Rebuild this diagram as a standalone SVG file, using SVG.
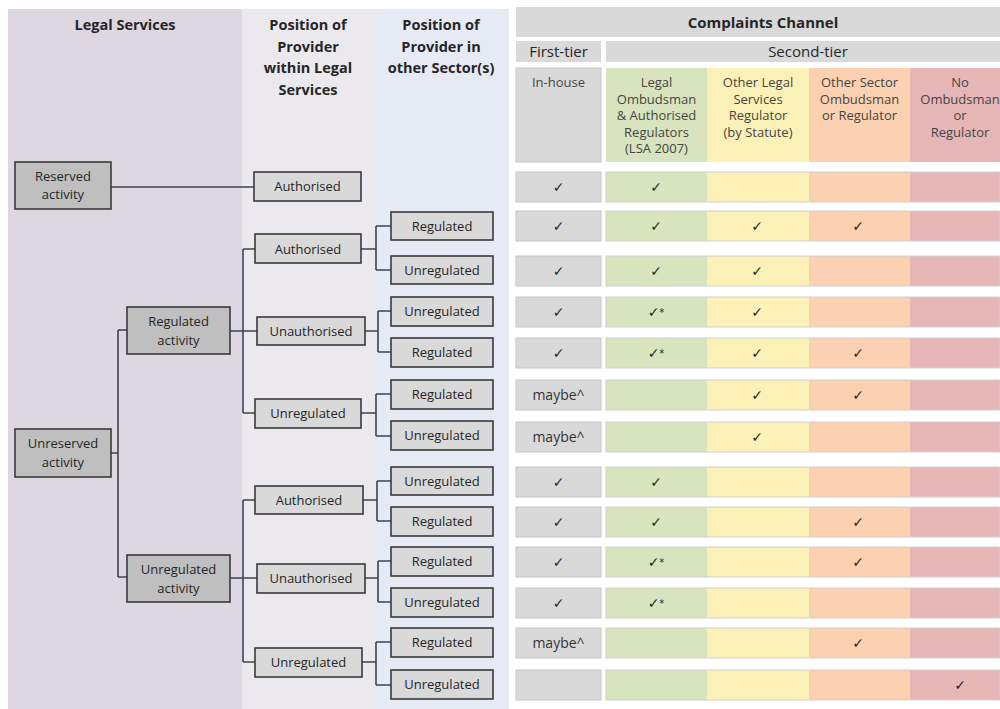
<svg xmlns="http://www.w3.org/2000/svg" width="1000" height="709" viewBox="0 0 1000 709">
  <style>
    text { font-family: "Open Sans", "Liberation Sans", sans-serif; fill: #262626; text-anchor: middle; }
    .hd { font-size: 14.5px; font-weight: bold; }
    .ch { font-size: 15px; font-weight: bold; }
    .tier { font-size: 15px; }
    .col { font-size: 13px; fill: #454545; }
    .lbl { font-size: 13px; }
    .ck { font-family: "DejaVu Sans", sans-serif; font-size: 14px; fill: #2a2a2a; }
    .mb { font-size: 14px; fill: #333; }
    .top { fill: #bfbfbf; stroke: #3a3a3a; stroke-width: 1.6; }
    .sub { fill: #d9d9d9; stroke: #3a3a3a; stroke-width: 1.6; }
    .cell { fill: #d9d9d9; stroke: #c6c6c6; stroke-width: 1; }
    .strip { fill: none; stroke: #d0d0d0; stroke-width: 1; }
    .g { fill: #d7e4bd; }
    .y { fill: #fbf1b6; }
    .o { fill: #fbd1b1; }
    .r { fill: #e6b7b6; }
    .conn path { fill: none; stroke: #3b4450; stroke-width: 1.6; }
  </style>

  <rect width="1000" height="709" fill="#ffffff"/>

  <!-- column bands -->
  <rect x="8" y="9" width="234" height="700" fill="#ddd7e2"/>
  <rect x="242" y="9" width="132" height="700" fill="#ebe9ee"/>
  <rect x="374" y="9" width="135" height="700" fill="#e6eaf4"/>

  <!-- column headings -->
  <text class="hd" x="125" y="30">Legal Services</text>
  <text class="hd" x="308" y="30">Position of</text>
  <text class="hd" x="308" y="51.5">Provider</text>
  <text class="hd" x="308" y="73">within Legal</text>
  <text class="hd" x="308" y="94.5">Services</text>
  <text class="hd" x="441" y="30">Position of</text>
  <text class="hd" x="441" y="51.5">Provider in</text>
  <text class="hd" x="441" y="73">other Sector(s)</text>

  <!-- connectors -->
  <g class="conn" id="connectors">
    <path d="M111,187 H254"/>
    <path d="M111,453 H118 M118,330 V577 M118,330 H127 M118,577 H127"/>
    <path d="M230,331 H257 M243,249 V413 M243,249 H255 M243,413 H255"/>
    <path d="M361,249 H376 M376,226 V270 M376,226 H391 M376,270 H391"/>
    <path d="M365,331 H378 M378,311 V352 M378,311 H391 M378,352 H391"/>
    <path d="M361,413 H376 M376,394 V436 M376,394 H391 M376,436 H391"/>
    <path d="M230,578 H257 M243,500 V662 M243,500 H255 M243,662 H255"/>
    <path d="M363,500 H377 M377,481 V521 M377,481 H391 M377,521 H391"/>
    <path d="M365,578 H378 M378,561 V602 M378,561 H391 M378,602 H391"/>
    <path d="M362,662 H376 M376,642 V685 M376,642 H391 M376,685 H391"/>
  </g>

  <!-- activity nodes -->
  <g id="reserved">
    <rect class="top" x="15" y="162" width="96" height="47"/>
    <text class="lbl" x="63" y="181">Reserved</text>
    <text class="lbl" x="63" y="199">activity</text>
  </g>
  <g id="unreserved">
    <rect class="top" x="15" y="429" width="96" height="48"/>
    <text class="lbl" x="63" y="448">Unreserved</text>
    <text class="lbl" x="63" y="467">activity</text>
  </g>
  <g id="regulated-activity">
    <rect class="top" x="127" y="307" width="103" height="47"/>
    <text class="lbl" x="178.5" y="326">Regulated</text>
    <text class="lbl" x="178.5" y="345">activity</text>
  </g>
  <g id="unregulated-activity">
    <rect class="top" x="127" y="555" width="103" height="47"/>
    <text class="lbl" x="178.5" y="574">Unregulated</text>
    <text class="lbl" x="178.5" y="593">activity</text>
  </g>

  <!-- provider within legal services -->
  <g id="res-authorised">
    <rect class="sub" x="254" y="172" width="107" height="29"/>
    <text class="lbl" x="307.5" y="191">Authorised</text>
  </g>
  <g id="reg-authorised">
    <rect class="sub" x="255" y="234" width="106" height="29"/>
    <text class="lbl" x="308" y="253.5">Authorised</text>
  </g>
  <g id="reg-unauthorised">
    <rect class="sub" x="257" y="317" width="108" height="28"/>
    <text class="lbl" x="311" y="336">Unauthorised</text>
  </g>
  <g id="reg-unregulated">
    <rect class="sub" x="255" y="399" width="106" height="29"/>
    <text class="lbl" x="308" y="418">Unregulated</text>
  </g>
  <g id="unreg-authorised">
    <rect class="sub" x="255" y="486" width="108" height="28"/>
    <text class="lbl" x="309" y="505">Authorised</text>
  </g>
  <g id="unreg-unauthorised">
    <rect class="sub" x="257" y="564" width="108" height="29"/>
    <text class="lbl" x="311" y="583">Unauthorised</text>
  </g>
  <g id="unreg-unregulated">
    <rect class="sub" x="255" y="648" width="107" height="29"/>
    <text class="lbl" x="308.5" y="667">Unregulated</text>
  </g>

  <!-- provider in other sectors -->
  <g id="s1"><rect class="sub" x="391" y="212" width="102" height="28"/><text class="lbl" x="442" y="230.5">Regulated</text></g>
  <g id="s2"><rect class="sub" x="391" y="256" width="102" height="28"/><text class="lbl" x="442" y="274.5">Unregulated</text></g>
  <g id="s3"><rect class="sub" x="391" y="297" width="102" height="29"/><text class="lbl" x="442" y="315.5">Unregulated</text></g>
  <g id="s4"><rect class="sub" x="391" y="338" width="102" height="29"/><text class="lbl" x="442" y="356.5">Regulated</text></g>
  <g id="s5"><rect class="sub" x="391" y="380" width="102" height="29"/><text class="lbl" x="442" y="398.5">Regulated</text></g>
  <g id="s6"><rect class="sub" x="391" y="421" width="102" height="29"/><text class="lbl" x="442" y="440">Unregulated</text></g>
  <g id="s7"><rect class="sub" x="391" y="467" width="102" height="28"/><text class="lbl" x="442" y="485.5">Unregulated</text></g>
  <g id="s8"><rect class="sub" x="391" y="507" width="102" height="29"/><text class="lbl" x="442" y="525.5">Regulated</text></g>
  <g id="s9"><rect class="sub" x="391" y="547" width="102" height="29"/><text class="lbl" x="442" y="565.5">Regulated</text></g>
  <g id="s10"><rect class="sub" x="391" y="588" width="102" height="29"/><text class="lbl" x="442" y="606.5">Unregulated</text></g>
  <g id="s11"><rect class="sub" x="391" y="628" width="102" height="29"/><text class="lbl" x="442" y="646.5">Regulated</text></g>
  <g id="s12"><rect class="sub" x="391" y="670" width="102" height="29"/><text class="lbl" x="442" y="689">Unregulated</text></g>

  <!-- complaints channel table -->
  <g id="channel-header">
    <rect x="516" y="7" width="484" height="30" fill="#d9d9d9"/>
    <text class="ch" x="763" y="28">Complaints Channel</text>
    <rect x="516" y="41" width="85" height="21" fill="#d9d9d9"/>
    <text class="tier" x="558.5" y="57">First-tier</text>
    <rect x="606" y="41" width="394" height="21" fill="#d9d9d9"/>
    <text class="tier" x="808" y="57">Second-tier</text>

    <rect class="cell" x="516" y="68" width="85" height="94"/>
    <rect class="g" x="606" y="68" width="101" height="94"/>
    <rect class="y" x="707" y="68" width="102" height="94"/>
    <rect class="o" x="809" y="68" width="101" height="94"/>
    <rect class="r" x="910" y="68" width="90" height="94"/>
    <text class="col" x="558.5" y="87">In-house</text>
    <text class="col" x="656.5" y="87">Legal</text>
    <text class="col" x="656.5" y="103.5">Ombudsman</text>
    <text class="col" x="656.5" y="120">&amp; Authorised</text>
    <text class="col" x="656.5" y="136.5">Regulators</text>
    <text class="col" x="656.5" y="153">(LSA 2007)</text>
    <text class="col" x="758" y="87">Other Legal</text>
    <text class="col" x="758" y="103.5">Services</text>
    <text class="col" x="758" y="120">Regulator</text>
    <text class="col" x="758" y="136.5">(by Statute)</text>
    <text class="col" x="859.5" y="87">Other Sector</text>
    <text class="col" x="859.5" y="103.5">Ombudsman</text>
    <text class="col" x="859.5" y="120">or Regulator</text>
    <text class="col" x="960" y="87">No</text>
    <text class="col" x="960" y="103.5">Ombudsman</text>
    <text class="col" x="960" y="120">or</text>
    <text class="col" x="960" y="136.5">Regulator</text>
  </g>

  <!-- shared row background -->
  <defs>
    <g id="row">
      <rect class="cell" x="516" y="0" width="85" height="30"/>
      <rect class="g" x="606" y="0" width="101" height="30"/>
      <rect class="y" x="707" y="0" width="102" height="30"/>
      <rect class="o" x="809" y="0" width="101" height="30"/>
      <rect class="r" x="910" y="0" width="90" height="30"/>
      <rect class="strip" x="606" y="0" width="394" height="30"/>
    </g>
  </defs>

  <g id="row1" transform="translate(0,172)">
    <use href="#row"/>
    <text class="ck" x="558.5" y="20">✓</text><text class="ck" x="656" y="20">✓</text>
  </g>
  <g id="row2" transform="translate(0,211)">
    <use href="#row"/>
    <text class="ck" x="558.5" y="20">✓</text><text class="ck" x="656" y="20">✓</text>
    <text class="ck" x="757" y="20">✓</text><text class="ck" x="858" y="20">✓</text>
  </g>
  <g id="row3" transform="translate(0,256)">
    <use href="#row"/>
    <text class="ck" x="558.5" y="20">✓</text><text class="ck" x="656" y="20">✓</text>
    <text class="ck" x="757" y="20">✓</text>
  </g>
  <g id="row4" transform="translate(0,297)">
    <use href="#row"/>
    <text class="ck" x="558.5" y="20">✓</text><text class="ck" x="656" y="20">✓<tspan font-size="10" dy="-1">*</tspan></text>
    <text class="ck" x="757" y="20">✓</text>
  </g>
  <g id="row5" transform="translate(0,338)">
    <use href="#row"/>
    <text class="ck" x="558.5" y="20">✓</text><text class="ck" x="656" y="20">✓<tspan font-size="10" dy="-1">*</tspan></text>
    <text class="ck" x="757" y="20">✓</text><text class="ck" x="858" y="20">✓</text>
  </g>
  <g id="row6" transform="translate(0,380)">
    <use href="#row"/>
    <text class="mb" x="558.5" y="20">maybe^</text>
    <text class="ck" x="757" y="20">✓</text><text class="ck" x="858" y="20">✓</text>
  </g>
  <g id="row7" transform="translate(0,422)">
    <use href="#row"/>
    <text class="mb" x="558.5" y="20">maybe^</text>
    <text class="ck" x="757" y="20">✓</text>
  </g>
  <g id="row8" transform="translate(0,467)">
    <use href="#row"/>
    <text class="ck" x="558.5" y="20">✓</text><text class="ck" x="656" y="20">✓</text>
  </g>
  <g id="row9" transform="translate(0,507)">
    <use href="#row"/>
    <text class="ck" x="558.5" y="20">✓</text><text class="ck" x="656" y="20">✓</text>
    <text class="ck" x="858" y="20">✓</text>
  </g>
  <g id="row10" transform="translate(0,547)">
    <use href="#row"/>
    <text class="ck" x="558.5" y="20">✓</text><text class="ck" x="656" y="20">✓<tspan font-size="10" dy="-1">*</tspan></text>
    <text class="ck" x="858" y="20">✓</text>
  </g>
  <g id="row11" transform="translate(0,588)">
    <use href="#row"/>
    <text class="ck" x="558.5" y="20">✓</text><text class="ck" x="656" y="20">✓<tspan font-size="10" dy="-1">*</tspan></text>
  </g>
  <g id="row12" transform="translate(0,628)">
    <use href="#row"/>
    <text class="mb" x="558.5" y="20">maybe^</text>
    <text class="ck" x="858" y="20">✓</text>
  </g>
  <g id="row13" transform="translate(0,670)">
    <use href="#row"/>
    <text class="ck" x="960" y="20">✓</text>
  </g>
</svg>
